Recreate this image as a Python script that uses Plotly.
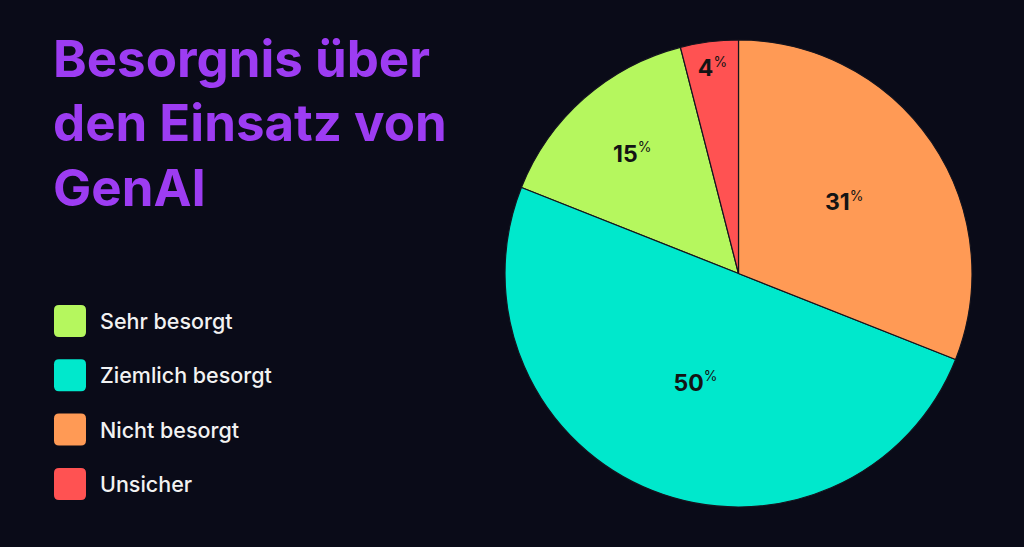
import plotly.graph_objects as go

categories = ["Sehr besorgt", "Ziemlich besorgt", "Nicht besorgt", "Unsicher"]
values = [15, 50, 31, 4]
colors = ["#b5f75e", "#00e8cc", "#ff9a55", "#ff5252"]
title_lines = ["Besorgnis über", "den Einsatz von", "GenAI"]

W, H = 1024, 547
BG = "#0a0b18"
FONT = "Inter"

fig = go.Figure()
fig.add_trace(go.Pie(
    labels=categories,
    values=values,
    sort=False,
    direction="counterclockwise",
    rotation=-360 * (values[0] + values[-1]) / sum(values),
    marker=dict(colors=colors, line=dict(color="#14141e", width=1.2)),
    texttemplate="<b>%{value}</b><sup><span style='font-size:14px'>%</span></sup>",
    textposition="inside",
    insidetextorientation="horizontal",
    textfont=dict(family=FONT, size=23, color="#141414"),
    hoverinfo="label+percent",
    showlegend=False,
    domain=dict(x=[505 / W, 972 / W], y=[1 - 507 / H, 1 - 40 / H]),
))

def px(x):
    return x / W

def py(y):
    return 1 - y / H

# Title
for i, line in enumerate(title_lines):
    fig.add_annotation(
        text=f"<b>{line}</b>", xref="paper", yref="paper",
        x=51 / W, y=py(59 + 64 * i), xanchor="left", yanchor="middle",
        showarrow=False, font=dict(family=FONT, size=51, color="#9d3cf2"),
    )

# Legend built from the data arrays
shapes = []
for i, (cat, col) in enumerate(zip(categories, colors)):
    cy = 321 + 54.3 * i
    x0, x1 = 54, 86
    y0, y1 = cy - 16, cy + 16
    r = 5
    path = (f"M {x0+r},{y0} L {x1-r},{y0} Q {x1},{y0} {x1},{y0+r} "
            f"L {x1},{y1-r} Q {x1},{y1} {x1-r},{y1} L {x0+r},{y1} "
            f"Q {x0},{y1} {x0},{y1-r} L {x0},{y0+r} Q {x0},{y0} {x0+r},{y0} Z")
    out = []
    for t in path.split():
        if "," in t:
            a, b = t.split(",")
            out.append(f"{px(float(a)):.5f},{py(float(b)):.5f}")
        else:
            out.append(t)
    shapes.append(dict(type="path", xref="paper", yref="paper", path=" ".join(out),
                       fillcolor=col, line=dict(width=0)))
    fig.add_annotation(
        text=cat, xref="paper", yref="paper", x=98 / W, y=py(cy),
        xanchor="left", yanchor="middle", showarrow=False,
        font=dict(family=FONT, size=21.5, color="#f2f2f2", weight=500),
    )

fig.update_layout(
    width=W, height=H, margin=dict(l=0, r=0, t=0, b=0),
    paper_bgcolor=BG, plot_bgcolor=BG, shapes=shapes,
)
fig.write_html("out.html", config={"displayModeBar": False},
               post_script="document.body.style.margin='0';document.body.style.background='%s';" % BG)
